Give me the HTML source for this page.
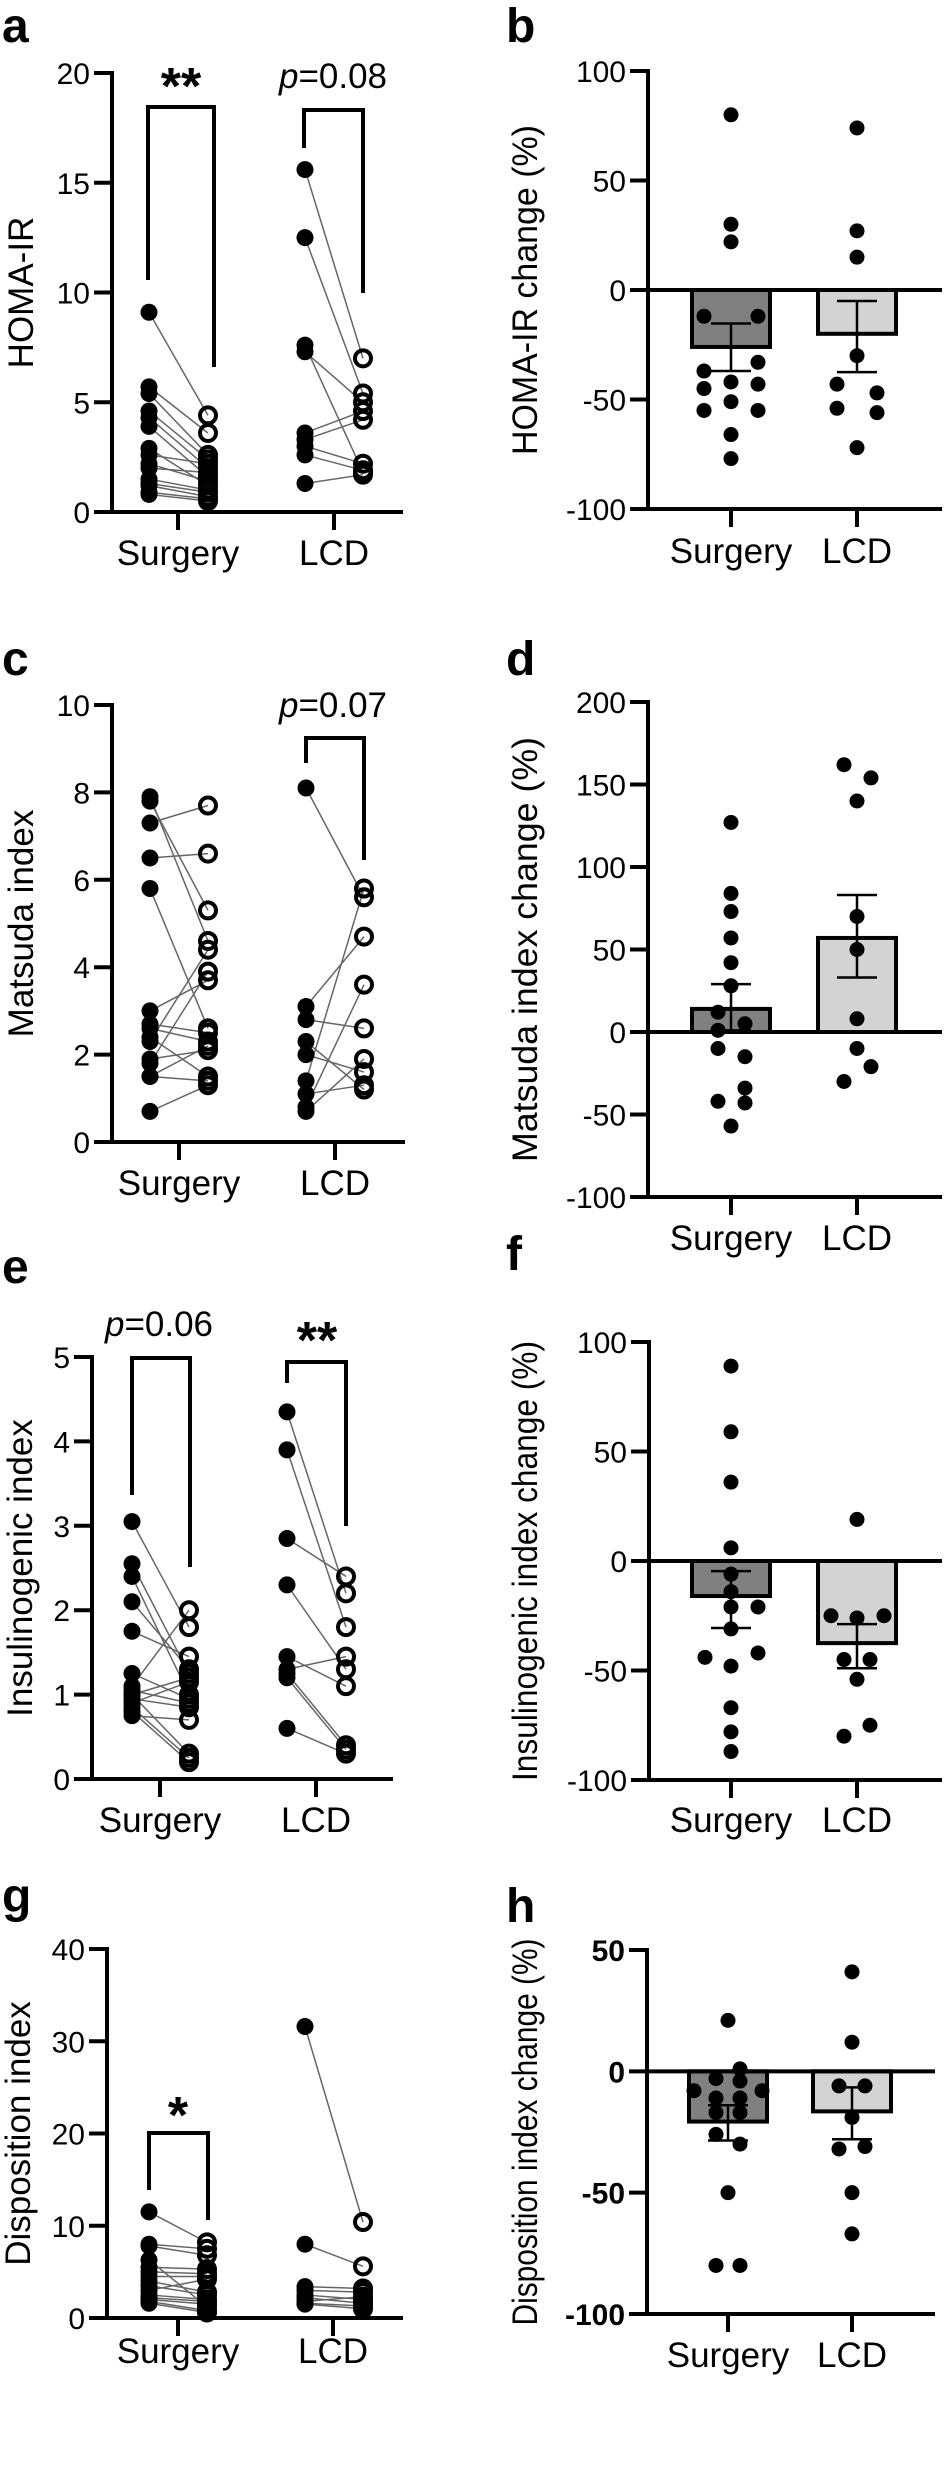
<!DOCTYPE html>
<html><head><meta charset="utf-8"><style>
html,body{margin:0;padding:0;background:#fff}
svg{display:block;font-family:"Liberation Sans",Arial,sans-serif}
</style></head><body>
<svg id="fig" width="944" height="2471" viewBox="0 0 944 2471" xmlns="http://www.w3.org/2000/svg"></svg>
<script>
// ---------- data ----------
const groupNames = ["Surgery", "LCD"];
// panel a HOMA-IR
const aSurgPre  = [9.1,5.7,5.4,4.6,4.3,3.9,2.9,2.6,2.2,2.0,1.5,1.3,1.2,0.9,0.8];
const aSurgPost = [4.4,3.6,2.6,2.4,2.0,1.6,1.2,2.2,1.4,1.8,1.0,0.9,0.7,0.6,0.5];
const aLcdPre   = [15.6,12.5,7.6,7.3,3.6,3.3,3.0,2.6,1.3];
const aLcdPost  = [7.0,5.4,1.8,5.0,4.6,4.2,2.2,1.9,1.7];
const aTicks = [0,5,10,15,20];
// panel c Matsuda
const cSurgPre  = [7.9,7.8,7.3,6.5,5.8,3.0,2.7,2.6,2.4,2.3,1.9,1.8,1.5,1.5,0.7];
const cSurgPost = [4.6,5.3,7.7,6.6,2.6,3.7,2.5,2.3,1.5,4.4,2.1,3.9,2.2,1.4,1.3];
const cLcdPre   = [8.1,3.1,2.8,2.3,2.0,1.4,1.1,0.8,0.7];
const cLcdPost  = [5.6,4.7,2.6,1.2,1.6,5.8,1.3,3.6,1.9];
const cTicks = [0,2,4,6,8,10];
// panel e Insulinogenic
const eSurgPre  = [3.05,2.55,2.4,2.1,1.75,1.25,1.1,1.05,1.0,1.0,0.95,0.9,0.85,0.8,0.75];
const eSurgPost = [1.8,1.25,1.0,1.3,1.45,0.95,2.0,0.9,1.2,0.3,0.85,1.15,0.25,0.2,0.7];
const eLcdPre   = [4.35,3.9,2.85,2.3,1.45,1.3,1.25,1.2,0.6];
const eLcdPost  = [2.2,1.8,2.4,1.3,1.1,1.45,0.4,0.35,0.3];
const eTicks = [0,1,2,3,4,5];
// panel g Disposition
const gSurgPre  = [11.5,8.0,7.8,6.3,5.5,5.0,4.5,4.0,3.5,3.0,2.5,2.2,2.0,1.8,1.6];
const gSurgPost = [8.2,7.5,6.8,1.2,5.3,4.8,4.5,2.8,2.5,4.2,2.0,1.8,1.5,0.8,0.6];
const gLcdPre   = [31.6,8.0,3.4,3.0,2.5,2.2,1.8,1.6,1.5];
const gLcdPost  = [10.4,5.6,3.2,2.8,2.0,1.6,2.3,1.3,1.0];
const gTicks = [0,10,20,30,40];
// panel b HOMA-IR change
const bSurg = [80,30,22,-12,-12,-33,-37,-42,-43,-45,-51,-55,-55,-66,-77];
const bLcd  = [74,27,15,-30,-43,-47,-54,-56,-72];
const bMeans = [-26,-20];
const bSemLo = [-37,-37.5];
const bSemHi = [-15.3,-5];
const bTicks = [-100,-50,0,50,100];
// panel d Matsuda change
const dSurg = [127,84,73,57,42,28,12,5,1,-10,-15,-34,-42,-43,-57];
const dLcd  = [162,154,140,70,50,8,-10,-21,-30];
const dMeans = [14,57];
const dSemLo = [1,33];
const dSemHi = [29,83];
const dTicks = [-100,-50,0,50,100,150,200];
// panel f Insulinogenic change
const fSurg = [89,59,36,6,-6,-14,-21,-21,-31,-44,-42,-48,-67,-78,-87];
const fLcd  = [19,-25,-26,-25,-45,-45,-54,-80,-75];
const fMeans = [-16,-37.5];
const fSemLo = [-30.6,-49];
const fSemHi = [-4.6,-28.8];
const fTicks = [-100,-50,0,50,100];
// panel h Disposition change
const hSurg = [21,1,-3,-4,-8,-8,-11,-11,-17,-17,-26,-30,-50,-80,-80];
const hLcd  = [41,12,-6,-6,-19,-32,-31,-50,-67];
const hMeans = [-20.7,-16.5];
const hSemLo = [-28.5,-28];
const hSemHi = [-14,-6.6];
const hTicks = [-100,-50,0,50];

// ---------- layout (not data) ----------
const bJitS = [0,0,0,-27,27,27,-27,0,27,-27,0,-27,27,0,0];
const bJitL = [0,0,0,0,-20,20,-20,20,0];
const dJitS = [0,0,0,0,0,0,-13,14,-13,-13,14,14,-13,14,0];
const dJitL = [-13,14,0,0,0,0,0,14,-13];
const fJitS = [0,0,0,0,0,0,0,27,0,-26,27,0,0,0,0];
const fJitL = [0,-26,0,27,-13,13,0,-13,13];
const hJitS = [0,12,-12,12,-34,34,-12,12,-12,12,-12,12,0,-12,12];
const hJitL = [0,0,-13,13,0,-13,13,0,0];

const NS = "http://www.w3.org/2000/svg";
const svg = document.getElementById('fig');
function mk(tag, attrs, parent){
  const e = document.createElementNS(NS, tag);
  for (const k in attrs) e.setAttribute(k, attrs[k]);
  (parent||svg).appendChild(e);
  return e;
}
function txt(s, attrs, parent){ const t = mk('text', attrs, parent); t.textContent = s; return t; }
function scaleY(min,max,top,bot){ return v => bot - (v-min)/(max-min)*(bot-top); }

function yAxis(g, ax, top, bot, ticks, sy, bold){
  const l = mk('line',{x1:ax,y1:top-2,x2:ax,y2:bot+2,stroke:'#000','stroke-width':4},g);
  
  
  ticks.forEach(t=>{
    const y = sy(t);
    const tl = mk('line',{x1:ax-18,y1:y,x2:ax,y2:y,stroke:'#000','stroke-width':4},g);
    
    
    const lab = txt(String(t),{x:ax-22,y:y+11,'text-anchor':'end','font-size':30,'font-weight':bold?'bold':'normal'},g);
    
    
  });
}
function title(g, s, x, cy, len){
  const a = {x:0,y:0,'font-size':35,'text-anchor':'middle',transform:`translate(${x},${cy}) rotate(-90)`};
  if (len){ a.textLength = len; a.lengthAdjust='spacingAndGlyphs'; }
  const t = txt(s,a,g);
  
  
}
function letter(s,x,y){
  const t = txt(s,{x:x,y:y,'font-size':48,'font-weight':'bold'});
  
  
}
function xCats(g, ticksX, axisY, labY){
  ticksX.forEach((x,i)=>{
    const tl = mk('line',{x1:x,y1:axisY,x2:x,y2:axisY+18,stroke:'#000','stroke-width':4},g);
    
    
    const t = txt(groupNames[i],{x:x,y:labY,'text-anchor':'middle','font-size':35},g);
    
    
  });
}
function bracket(g, x1, x2, top, l, r){
  const p = mk('path',{d:`M${x1},${l} V${top} H${x2} V${r}`,fill:'none',stroke:'#000','stroke-width':4},g);
  
  
}
function annot(g, s, x, y, star){
  const t = star ? txt(s,{x:x,y:y+6,'text-anchor':'middle','font-size':52,'font-weight':'bold'},g)
                 : txt('',{x:x,y:y,'text-anchor':'middle','font-size':35},g);
  if(!star){
    const i = mk('tspan',{'font-style':'italic'},t); i.textContent='p';
    const r = mk('tspan',{},t); r.textContent = s;
  }
  
  
}

function paired(cfg){
  const g = mk('g',{});
  
  
  const sy = scaleY(cfg.min,cfg.max,cfg.top,cfg.bot);
  cfg.groups.forEach(gr=>{
    gr.pre.forEach((v,i)=>{
      const ln = mk('line',{x1:gr.xPre,y1:sy(v),x2:gr.xPost,y2:sy(gr.post[i]),stroke:'#666','stroke-width':1.5},g);
      
      
    });
  });
  cfg.groups.forEach(gr=>{
    gr.pre.forEach(v=>{
      const c = mk('circle',{cx:gr.xPre,cy:sy(v),r:8.5,fill:'#000'},g);
      
      
    });
    gr.post.forEach(v=>{
      const c = mk('circle',{cx:gr.xPost,cy:sy(v),r:8,fill:'none',stroke:'#000','stroke-width':4},g);
      
      
    });
  });
  yAxis(g,cfg.ax,cfg.top,cfg.bot,cfg.ticks,sy,false);
  const xl = mk('line',{x1:cfg.ax-18,y1:cfg.bot,x2:cfg.xEnd,y2:cfg.bot,stroke:'#000','stroke-width':4},g);
  
  
  xCats(g,cfg.groups.map(gr=>gr.tick),cfg.bot,cfg.labY);
  title(g,cfg.title,cfg.titleX,(cfg.top+cfg.bot)/2);
  (cfg.brackets||[]).forEach(b=>{ bracket(g,b[0],b[1],b[2],b[3],b[4]); annot(g,b[5],b[6],b[7],b[8]); });
}

function bars(cfg){
  const g = mk('g',{});
  
  
  const sy = scaleY(cfg.min,cfg.max,cfg.top,cfg.bot);
  const fills = ['#808080','#d3d3d3'];
  const y0 = sy(0);
  cfg.means.forEach((m,i)=>{
    const cx = cfg.cx[i], y = sy(m);
    const r = mk('rect',{x:cx-39,y:Math.min(y,y0),width:78,height:Math.abs(y-y0),fill:fills[i],stroke:'#000','stroke-width':4},g);
    
    
  });
  cfg.means.forEach((m,i)=>{
    const cx = cfg.cx[i];
    const e = mk('path',{d:`M${cx},${sy(cfg.lo[i])} V${sy(cfg.hi[i])} M${cx-20},${sy(cfg.lo[i])} H${cx+20} M${cx-20},${sy(cfg.hi[i])} H${cx+20}`,stroke:'#000','stroke-width':2.5,fill:'none'},g);
    
    
  });
  [cfg.s,cfg.l].forEach((arr,i)=>{
    const jit = i===0?cfg.js:cfg.jl;
    arr.forEach((v,k)=>{
      const c = mk('circle',{cx:cfg.cx[i]+jit[k],cy:sy(v),r:7.5,fill:'#000'},g);
      
      
    });
  });
  yAxis(g,cfg.ax,cfg.top,cfg.bot,cfg.ticks,sy,cfg.bold);
  const zl = mk('line',{x1:cfg.ax,y1:y0,x2:cfg.xEnd,y2:y0,stroke:'#000','stroke-width':4},g);
  
  
  const xl = mk('line',{x1:cfg.ax-18,y1:cfg.bot,x2:cfg.xEnd,y2:cfg.bot,stroke:'#000','stroke-width':4},g);
  
  
  xCats(g,cfg.cx,cfg.bot,cfg.labY);
  title(g,cfg.title,cfg.titleX,(cfg.top+cfg.bot)/2,cfg.tlen);
}

paired({name:'panel-a',min:0,max:20,top:73,bot:512,ax:112,xEnd:403,ticks:aTicks,labY:565,title:'HOMA-IR',titleX:33,
  groups:[{pre:aSurgPre,post:aSurgPost,xPre:149,xPost:208,tick:178},{pre:aLcdPre,post:aLcdPost,xPre:305,xPost:363,tick:334}],
  brackets:[[148,214,107,280,367,'**',181,98,true],[304,363,110,148,293,'=0.08',333,88,false]]});
paired({name:'panel-c',min:0,max:10,top:705,bot:1142,ax:112,xEnd:405,ticks:cTicks,labY:1195,title:'Matsuda index',titleX:33,
  groups:[{pre:cSurgPre,post:cSurgPost,xPre:150,xPost:208,tick:179},{pre:cLcdPre,post:cLcdPost,xPre:306,xPost:364,tick:335}],
  brackets:[[306,364,738,763,860,'=0.07',333,717,false]]});
paired({name:'panel-e',min:0,max:5,top:1357,bot:1779,ax:92,xEnd:393,ticks:eTicks,labY:1832,title:'Insulinogenic index',titleX:32,
  groups:[{pre:eSurgPre,post:eSurgPost,xPre:132,xPost:189,tick:160},{pre:eLcdPre,post:eLcdPost,xPre:287,xPost:346,tick:316}],
  brackets:[[132,190,1358,1495,1567,'=0.06',159,1336,false],[287,346,1362,1383,1526,'**',317,1352,true]]});
paired({name:'panel-g',min:0,max:40,top:1949,bot:2318,ax:107,xEnd:403,ticks:gTicks,labY:2363,title:'Disposition index',titleX:30,
  groups:[{pre:gSurgPre,post:gSurgPost,xPre:149,xPost:207,tick:178},{pre:gLcdPre,post:gLcdPost,xPre:305,xPost:363,tick:333}],
  brackets:[[149,208,2133,2190,2220,'*',178,2127,true]]});

bars({name:'panel-b',min:-100,max:100,top:71,bot:509,ax:648,xEnd:942,ticks:bTicks,cx:[731,857],labY:563,
  means:bMeans,lo:bSemLo,hi:bSemHi,s:bSurg,l:bLcd,js:bJitS,jl:bJitL,title:'HOMA-IR change (%)',titleX:537,tlen:330});
bars({name:'panel-d',min:-100,max:200,top:702,bot:1197,ax:648,xEnd:942,ticks:dTicks,cx:[731,857],labY:1250,
  means:dMeans,lo:dSemLo,hi:dSemHi,s:dSurg,l:dLcd,js:dJitS,jl:dJitL,title:'Matsuda index change (%)',titleX:537,tlen:425});
bars({name:'panel-f',min:-100,max:100,top:1342,bot:1780,ax:649,xEnd:942,ticks:fTicks,cx:[731,857],labY:1832,
  means:fMeans,lo:fSemLo,hi:fSemHi,s:fSurg,l:fLcd,js:fJitS,jl:fJitL,title:'Insulinogenic index change (%)',titleX:537,tlen:440});
bars({name:'panel-h',min:-100,max:50,top:1950,bot:2314,ax:647,xEnd:935,ticks:hTicks,cx:[728,852],labY:2367,bold:true,
  means:hMeans,lo:hSemLo,hi:hSemHi,s:hSurg,l:hLcd,js:hJitS,jl:hJitL,title:'Disposition index change (%)',titleX:537,tlen:387});

letter('a',2,42); letter('b',506,42);
letter('c',2,675); letter('d',506,675);
letter('e',2,1283); letter('f',506,1270);
letter('g',2,1912); letter('h',506,1922);
</script>
</body></html>
